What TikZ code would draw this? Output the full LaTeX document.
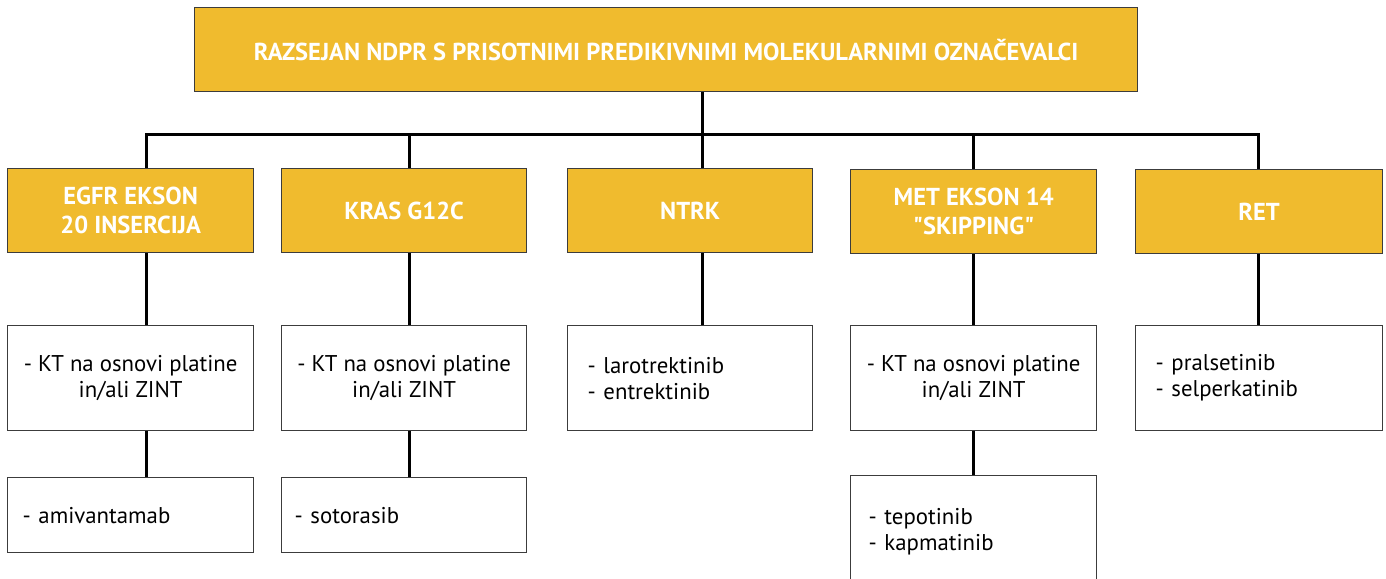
\documentclass[tikz,border=0pt]{standalone}
\usepackage{fontspec}
\newfontfamily\mainf{PT Sans}
\definecolor{ybox}{RGB}{240,187,46}
\definecolor{bord}{RGB}{60,60,60}
\tikzset{
  box/.style={draw=bord, line width=1.3pt, anchor=north west, inner sep=0pt, minimum height=#1},
  ybox/.style={box=84pt, fill=ybox, text=white, font=\mainf\fontsize{24.5}{29}\selectfont\bfseries, align=center},
  wbox/.style={box=#1, fill=white, font=\mainf\fontsize{22.8}{26}\selectfont},
  ctr/.style={align=center},
  lst/.style={align=left, inner xsep=#1},
  conn/.style={line width=3pt, draw=black}
}
\begin{document}
\begin{tikzpicture}[x=1pt,y=-1pt]
\path[use as bounding box, clip] (0,0) rectangle (1386,578);
\fill[white] (0,0) rectangle (1386,578);
% title
\node[ybox, minimum width=943pt] (title) at (194,7) {RAZSEJAN NDPR S PRISOTNIMI PREDIKIVNIMI MOLEKULARNIMI OZNAČEVALCI};
% level 1
\node[ybox, minimum width=246pt] (egfr) at (7,168) {EGFR EKSON\\20 INSERCIJA};
\node[ybox, minimum width=245pt] (kras) at (281,168) {KRAS G12C};
\node[ybox, minimum width=245pt] (ntrk) at (567,168) {NTRK};
\node[ybox, minimum width=246pt] (met) at (850,169) {MET EKSON 14\\"SKIPPING"};
\node[ybox, minimum width=247pt] (ret) at (1135,169) {RET};
% level 2
\node[wbox=105pt, ctr, minimum width=246pt] (egfr2) at (7,325) {- KT na osnovi platine\\in/ali ZINT};
\node[wbox=105pt, ctr, minimum width=245pt] (kras2) at (281,325) {- KT na osnovi platine\\in/ali ZINT};
\node[wbox=105pt, lst=20pt, text width=205pt] (ntrk2) at (567,325) {- larotrektinib\\- entrektinib};
\node[wbox=105pt, ctr, minimum width=246pt] (met2) at (850,325) {- KT na osnovi platine\\in/ali ZINT};
\node[wbox=105pt, lst=20pt, text width=207pt] (ret2) at (1135,325) {- pralsetinib\\- selperkatinib};
% level 3
\node[wbox=75pt, lst=15pt, text width=216pt] (egfr3) at (7,477) {- amivantamab};
\node[wbox=75pt, lst=13pt, text width=219pt] (kras3) at (281,477) {- sotorasib};
\node[wbox=112pt, lst=18pt, text width=210pt] (met3) at (850,475) {- tepotinib\\- kapmatinib};
% junctions
\coordinate (j1) at (146,134);
\coordinate (j2) at (409,134);
\coordinate (j3) at (702,134);
\coordinate (j4) at (973,134);
\coordinate (j5) at (1258,134);
% connectors
\draw[conn] (title.south -| j3) -- (j3);
\draw[conn] (egfr.north -| j1) -- (j1) -- (j5) -- (ret.north -| j5);
\draw[conn] (j2) -- (kras.north -| j2);
\draw[conn] (j3) -- (ntrk.north -| j3);
\draw[conn] (j4) -- (met.north -| j4);
\draw[conn] (egfr.south -| j1) -- (egfr2.north -| j1);
\draw[conn] (kras.south -| j2) -- (kras2.north -| j2);
\draw[conn] (ntrk.south -| j3) -- (ntrk2.north -| j3);
\draw[conn] (met.south -| j4) -- (met2.north -| j4);
\draw[conn] (ret.south -| j5) -- (ret2.north -| j5);
\draw[conn] (egfr2.south -| j1) -- (egfr3.north -| j1);
\draw[conn] (kras2.south -| j2) -- (kras3.north -| j2);
\draw[conn] (met2.south -| j4) -- (met3.north -| j4);
\end{tikzpicture}
\end{document}
